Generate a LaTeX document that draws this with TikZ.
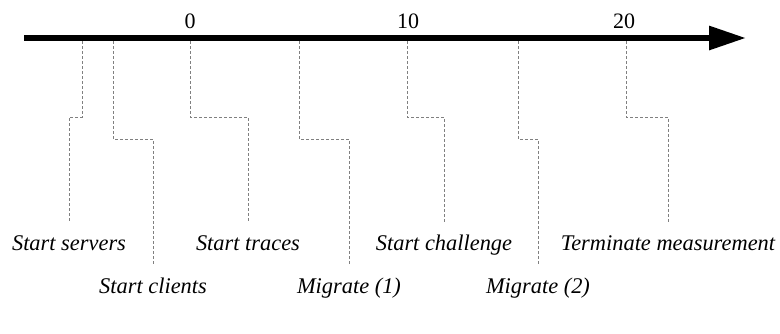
\documentclass[tikz,border=0pt]{standalone}
\usepackage{fontspec}
\setmainfont{Liberation Serif}
\usetikzlibrary{arrows.meta}
\begin{document}
\begin{tikzpicture}[x=1pt,y=-1pt,
  axisline/.style={line width=6pt, -{Triangle[length=37pt,width=23pt]}},
  guide/.style={draw=black!50, line width=0.8pt, dash pattern=on 3pt off 2pt},
  evlabel/.style={font=\fontsize{22.4}{26}\selectfont\itshape, anchor=base, inner xsep=0pt, inner ysep=12pt, text height=15pt},
  ticklabel/.style={font=\fontsize{22}{26}\selectfont, anchor=base, inner sep=0pt}]
\useasboundingbox (0,0) rectangle (780,333);
% axis
\coordinate (a) at (24,38);
\coordinate (b) at (746,38);
\draw[axisline] (a) -- (b);
\node[ticklabel] (t0) at (190,28) {0};
\node[ticklabel] (t10) at (408,28) {10};
\node[ticklabel] (t20) at (624,28) {20};
% event points on axis
\coordinate (e1) at (82,41);
\coordinate (e2) at (113,41);
\coordinate (e3) at (190,41);
\coordinate (e4) at (299,41);
\coordinate (e5) at (407,41);
\coordinate (e6) at (518,41);
\coordinate (e7) at (626,41);
% bends
\coordinate (k1) at (82,117);
\coordinate (k2) at (113,139);
\coordinate (k3) at (190,117);
\coordinate (k4) at (299,139);
\coordinate (k5) at (407,117);
\coordinate (k6) at (518,139);
\coordinate (k7) at (626,117);
% labels
\node[evlabel] (l1) at (69,250) {Start servers};
\node[evlabel] (l2) at (153,293) {Start clients};
\node[evlabel] (l3) at (248,250) {Start traces};
\node[evlabel] (l4) at (349,293) {Migrate (1)};
\node[evlabel] (l5) at (444,250) {Start challenge};
\node[evlabel] (l6) at (538,293) {Migrate (2)};
\node[evlabel] (l7) at (668,250) {Terminate measurement};
% guides
\draw[guide] (e1) -- (k1) -| (l1.north);
\draw[guide] (e2) -- (k2) -| (l2.north);
\draw[guide] (e3) -- (k3) -| (l3.north);
\draw[guide] (e4) -- (k4) -| (l4.north);
\draw[guide] (e5) -- (k5) -| (l5.north);
\draw[guide] (e6) -- (k6) -| (l6.north);
\draw[guide] (e7) -- (k7) -| (l7.north);
\end{tikzpicture}
\end{document}
